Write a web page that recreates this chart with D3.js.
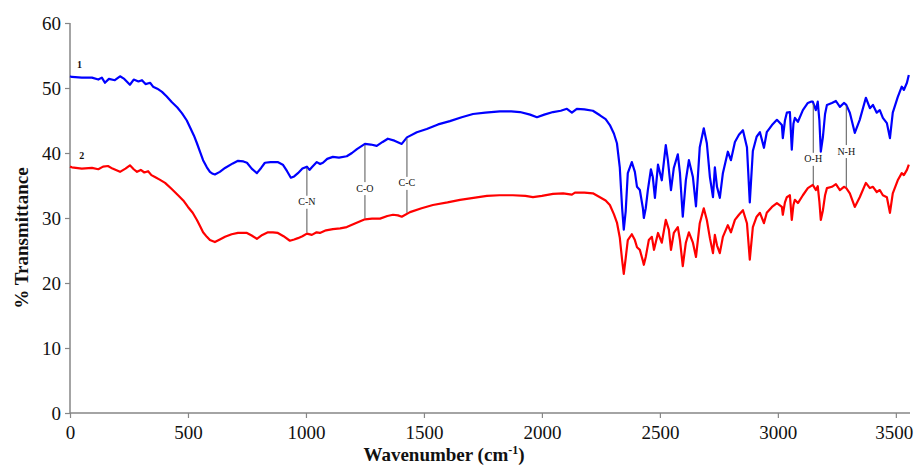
<!DOCTYPE html>
<html>
<head>
<meta charset="utf-8">
<script src="https://cdn.jsdelivr.net/npm/d3@7"></script>
<style>
  html, body { margin: 0; padding: 0; background: #fff; }
  svg { display: block; font-family: "Liberation Serif", "Times New Roman", serif; }
</style>
</head>
<body>
<div id="chart"></div>
<script>
// FTIR spectra, [wavenumber, % transmittance]
const sample1 = [
  [0, 51.8], [8, 51.7], [50, 51.6], [93, 51.6], [120, 51.3], [135, 51.6], [148, 50.8], [165, 51.4],
  [190, 51.2], [212, 51.8], [230, 51.4], [254, 50.5], [270, 51.3], [290, 51.0], [305, 51.2], [320, 50.6],
  [340, 50.8], [352, 50.2], [370, 49.9], [390, 49.4], [410, 48.7], [432, 47.8], [455, 47.0], [475, 46.1],
  [495, 45.0], [508, 44.0], [525, 42.7], [538, 41.5], [552, 40.1], [564, 38.9], [580, 37.8], [593, 37.1],
  [605, 36.8], [614, 36.7], [635, 37.1], [657, 37.7], [690, 38.4], [712, 38.8], [735, 38.7], [750, 38.5],
  [770, 37.6], [792, 36.9], [810, 37.7], [826, 38.5], [850, 38.6], [880, 38.6], [902, 38.2], [920, 37.2],
  [936, 36.2], [950, 36.4], [966, 36.9], [985, 37.6], [1004, 37.9], [1015, 37.4], [1025, 37.8], [1046, 38.6],
  [1060, 38.3], [1072, 38.5], [1090, 39.1], [1114, 39.4], [1140, 39.3], [1173, 39.5], [1195, 40.0], [1216, 40.6],
  [1250, 41.4], [1275, 41.3], [1300, 41.1], [1325, 41.7], [1347, 42.2], [1375, 41.9], [1406, 41.4], [1428, 42.4],
  [1470, 43.2], [1512, 43.7], [1560, 44.4], [1610, 44.9], [1660, 45.5], [1708, 46.0], [1760, 46.2], [1822, 46.4],
  [1870, 46.4], [1907, 46.3], [1950, 45.9], [1979, 45.5], [2010, 45.9], [2047, 46.3], [2080, 46.5], [2106, 46.8],
  [2127, 46.2], [2148, 46.8], [2180, 46.7], [2216, 46.5], [2246, 45.8], [2270, 45.2], [2288, 44.3], [2305, 43.0],
  [2318, 41.5], [2330, 37.8], [2340, 31.5], [2347, 28.2], [2355, 31.0], [2364, 36.9], [2381, 38.6], [2394, 37.1],
  [2403, 34.8], [2415, 34.3], [2428, 31.5], [2432, 30.0], [2440, 31.5], [2449, 34.3], [2462, 37.5], [2470, 36.3],
  [2479, 33.1], [2492, 38.2], [2508, 35.8], [2525, 41.2], [2534, 38.9], [2547, 34.3], [2559, 37.7], [2576, 39.8],
  [2585, 36.9], [2597, 30.2], [2610, 35.8], [2623, 38.9], [2640, 36.3], [2653, 31.8], [2669, 40.9], [2686, 43.8],
  [2699, 41.5], [2712, 36.3], [2725, 33.2], [2733, 37.8], [2742, 34.8], [2754, 33.1], [2767, 36.9], [2788, 40.2],
  [2801, 38.9], [2818, 41.7], [2835, 42.8], [2852, 43.5], [2869, 40.9], [2881, 32.4], [2894, 40.3], [2910, 42.5],
  [2924, 43.2], [2941, 40.8], [2953, 43.2], [2975, 44.3], [2996, 45.1], [3017, 44.3], [3021, 42.3], [3030, 45.0],
  [3038, 46.2], [3051, 46.3], [3059, 40.5], [3066, 44.5], [3072, 45.4], [3085, 44.8], [3106, 46.6], [3127, 47.7],
  [3140, 47.9], [3148, 47.9], [3161, 46.6], [3169, 47.9], [3176, 45.0], [3182, 40.2], [3191, 42.5], [3200, 46.0],
  [3208, 47.4], [3229, 47.7], [3246, 48.0], [3263, 47.1], [3280, 47.7], [3290, 47.4], [3305, 46.2], [3326, 43.1],
  [3347, 45.1], [3373, 48.5], [3390, 46.9], [3403, 47.4], [3419, 46.2], [3432, 46.6], [3445, 45.4], [3462, 44.6],
  [3475, 42.3], [3487, 46.2], [3508, 48.6], [3525, 50.2], [3534, 49.7], [3547, 50.8], [3555, 52.0]
];

const sample2 = [
  [0, 37.9], [8, 37.8], [50, 37.6], [93, 37.7], [120, 37.5], [140, 37.9], [161, 38.0], [180, 37.6],
  [212, 37.1], [235, 37.6], [254, 38.1], [270, 37.5], [284, 37.1], [300, 37.4], [315, 37.0], [331, 37.2],
  [345, 36.6], [360, 36.3], [380, 35.9], [403, 35.4], [430, 34.5], [458, 33.5], [480, 32.7], [500, 31.7],
  [520, 30.8], [538, 29.7], [552, 28.7], [564, 27.8], [580, 27.1], [593, 26.6], [614, 26.3], [635, 26.7],
  [657, 27.1], [685, 27.5], [712, 27.7], [750, 27.7], [770, 27.3], [792, 26.8], [815, 27.4], [839, 27.8],
  [860, 27.8], [881, 27.7], [905, 27.2], [932, 26.5], [950, 26.7], [966, 26.9], [985, 27.2], [1004, 27.6],
  [1025, 27.4], [1045, 27.8], [1059, 27.7], [1085, 28.1], [1114, 28.3], [1145, 28.4], [1173, 28.6], [1210, 29.2],
  [1250, 29.8], [1280, 29.9], [1314, 29.9], [1345, 30.3], [1369, 30.5], [1390, 30.4], [1406, 30.2], [1441, 30.9],
  [1490, 31.5], [1538, 32.0], [1600, 32.4], [1653, 32.8], [1710, 33.1], [1767, 33.4], [1820, 33.5], [1877, 33.5],
  [1930, 33.4], [1962, 33.2], [2000, 33.4], [2047, 33.7], [2090, 33.8], [2127, 33.6], [2140, 33.9], [2180, 33.9],
  [2216, 33.8], [2246, 33.2], [2270, 32.7], [2288, 32.0], [2305, 30.6], [2318, 29.3], [2330, 27.0], [2340, 23.5],
  [2347, 21.4], [2355, 23.8], [2364, 26.6], [2381, 27.5], [2394, 26.6], [2403, 25.5], [2415, 25.1], [2428, 23.4],
  [2432, 22.8], [2440, 24.0], [2453, 26.6], [2466, 27.1], [2475, 25.1], [2492, 27.7], [2508, 26.2], [2525, 29.7],
  [2538, 28.2], [2547, 25.1], [2559, 27.7], [2576, 28.6], [2585, 26.6], [2597, 22.6], [2610, 26.2], [2623, 27.8],
  [2640, 26.2], [2653, 24.0], [2669, 29.2], [2686, 31.5], [2699, 29.7], [2712, 26.9], [2725, 24.6], [2733, 27.4],
  [2742, 25.8], [2754, 24.6], [2767, 27.1], [2788, 28.9], [2801, 27.8], [2818, 29.7], [2835, 30.5], [2852, 31.2],
  [2869, 29.2], [2881, 23.6], [2894, 28.6], [2910, 30.2], [2924, 30.8], [2941, 29.2], [2953, 30.8], [2975, 31.7],
  [2996, 32.3], [3017, 31.7], [3021, 30.5], [3030, 32.4], [3038, 33.2], [3051, 33.5], [3059, 29.7], [3066, 32.0],
  [3072, 32.8], [3085, 32.3], [3106, 33.5], [3127, 34.6], [3148, 35.1], [3161, 34.3], [3169, 34.9], [3176, 32.5],
  [3182, 29.7], [3191, 31.2], [3200, 33.5], [3208, 34.6], [3229, 34.8], [3246, 35.2], [3263, 34.3], [3280, 34.8],
  [3290, 34.6], [3305, 33.8], [3326, 31.7], [3347, 33.2], [3373, 35.4], [3390, 34.6], [3403, 34.8], [3419, 34.0],
  [3432, 34.3], [3445, 33.5], [3462, 33.2], [3475, 30.8], [3487, 33.8], [3508, 35.8], [3525, 36.9], [3534, 36.6],
  [3547, 37.4], [3555, 38.2]
];

const seriesNames = ['1', '2'];
const seriesColors = ['#0000ff', '#ff0000'];

const xTicks = [0, 500, 1000, 1500, 2000, 2500, 3000, 3500];
const yTicks = [0, 10, 20, 30, 40, 50, 60];

// band assignments: wavenumber + where the label sits (in % T)
const bandLabels = ['C-N', 'C-O', 'C-C', 'O-H', 'N-H'];
const bandWavenumbers = [1004, 1250, 1428, 3150, 3290];
const bandLabelAt = [32.5, 34.6, 35.4, 39.1, 40.3];

const width = 916, height = 467;
const margin = {top: 23, right: 6, bottom: 54, left: 70};

const svg = d3.select('#chart').append('svg')
  .attr('width', width)
  .attr('height', height);

const x = d3.scaleLinear().domain([0, 3560]).range([margin.left, width - margin.right]);
const y = d3.scaleLinear().domain([0, 60]).range([height - margin.bottom, margin.top]);

const axisColor = '#868686';

// y axis
const yAxis = svg.append('g')
  .attr('transform', `translate(${margin.left},0)`)
  .call(d3.axisLeft(y).tickValues(yTicks).tickSize(5).tickPadding(4));
// x axis
const xAxis = svg.append('g')
  .attr('transform', `translate(0,${y(0)})`)
  .call(d3.axisBottom(x).tickValues(xTicks).tickFormat(d3.format('d')).tickSize(5).tickPadding(8));

[yAxis, xAxis].forEach(g => {
  g.select('.domain').attr('stroke', axisColor).attr('stroke-width', 1.5);
  g.selectAll('.tick line').attr('stroke', axisColor).attr('stroke-width', 1.2);
  g.selectAll('.tick text')
    .attr('fill', '#111')
    .style('font-family', '"Liberation Serif", serif')
    .style('font-size', '19px');
});
xAxis.select('.domain').attr('d', `M${x(0)},0H${x(3560)}`);
yAxis.select('.domain').attr('d', `M0,${y(0)}V${y(60)}`);
// last label sits tight against the right edge
xAxis.selectAll('.tick text').filter(d => d === 3500).attr('text-anchor', 'end').attr('dx', 17);

// axis titles
svg.append('text')
  .attr('transform', `translate(28,${(y(0) + y(60)) / 2 + 20}) rotate(-90)`)
  .attr('text-anchor', 'middle')
  .style('font-weight', 'bold')
  .style('font-size', '19px')
  .attr('fill', '#111')
  .text('%  Transmittance');

const xTitle = svg.append('text')
  .attr('x', 444)
  .attr('y', 461)
  .attr('text-anchor', 'middle')
  .style('font-weight', 'bold')
  .style('font-size', '19px')
  .attr('fill', '#111');
xTitle.append('tspan').text('Wavenumber (cm');
xTitle.append('tspan').attr('dy', -7).style('font-size', '12px').text('-1');
xTitle.append('tspan').attr('dy', 7).text(')');

// spectra
const line = d3.line().x(d => x(d[0])).y(d => y(d[1]));
const allSeries = [sample1, sample2];

svg.append('g')
  .selectAll('path')
  .data(allSeries)
  .join('path')
  .attr('d', line)
  .attr('fill', 'none')
  .attr('stroke', (d, i) => seriesColors[i])
  .attr('stroke-width', 2.2)
  .attr('stroke-linejoin', 'round');

// little series numbers
svg.append('g')
  .selectAll('text')
  .data(allSeries)
  .join('text')
  .attr('x', (d, i) => x(i === 0 ? 40 : 50))
  .attr('y', d => y(d[0][1]) - 8)
  .attr('text-anchor', 'middle')
  .style('font-weight', 'bold')
  .style('font-size', '10px')
  .attr('fill', '#111')
  .text((d, i) => seriesNames[i]);

// value of a series at a wavenumber (linear between points)
function valueAt(series, wn) {
  const i = d3.bisector(d => d[0]).left(series, wn);
  if (i <= 0) return series[0][1];
  if (i >= series.length) return series[series.length - 1][1];
  const a = series[i - 1], b = series[i];
  const t = (wn - a[0]) / (b[0] - a[0]);
  return a[1] + t * (b[1] - a[1]);
}

const bands = bandLabels.map((label, i) => ({
  label,
  wn: bandWavenumbers[i],
  at: bandLabelAt[i]
}));

const bandG = svg.append('g')
  .selectAll('g')
  .data(bands)
  .join('g');

bandG.append('line')
  .attr('x1', d => x(d.wn)).attr('x2', d => x(d.wn))
  .attr('y1', d => y(valueAt(sample1, d.wn)) + 1)
  .attr('y2', d => y(d.at) - 6)
  .attr('stroke', '#555')
  .attr('stroke-width', 1);

bandG.append('line')
  .attr('x1', d => x(d.wn)).attr('x2', d => x(d.wn))
  .attr('y1', d => y(d.at) + 7)
  .attr('y2', d => y(valueAt(sample2, d.wn)) - 1)
  .attr('stroke', '#555')
  .attr('stroke-width', 1);

bandG.append('text')
  .attr('x', d => x(d.wn))
  .attr('y', d => y(d.at) + 3.5)
  .attr('text-anchor', 'middle')
  .style('font-size', '10px')
  .attr('fill', '#111')
  .text(d => d.label);
</script>
</body>
</html>
